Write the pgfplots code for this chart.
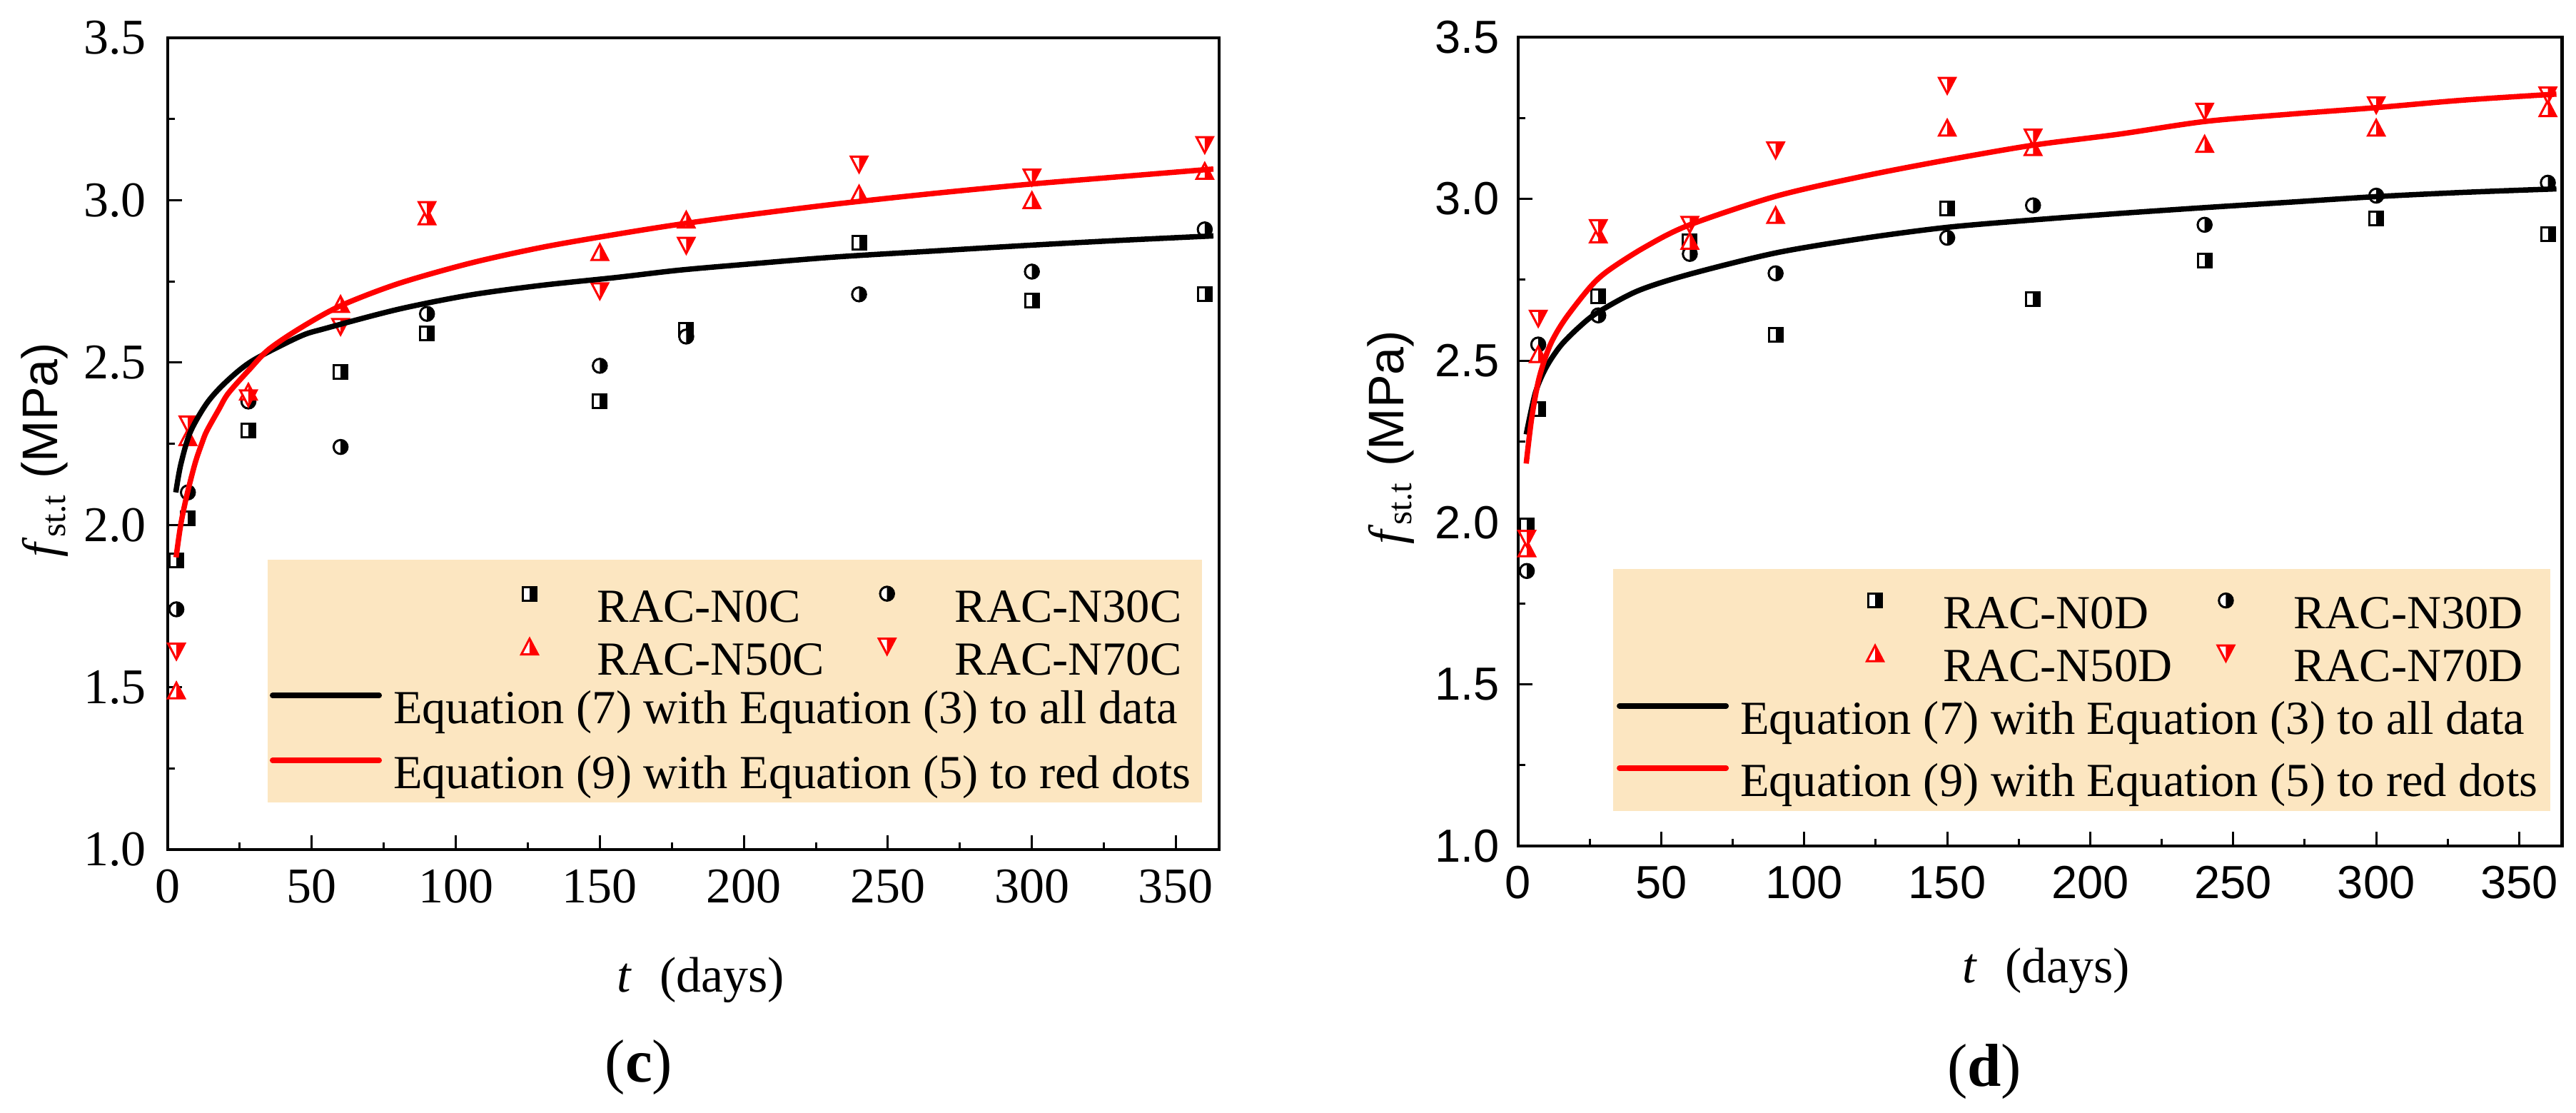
\documentclass[border=0pt]{standalone}
\usepackage{fontspec}
\setmainfont{Liberation Serif}
\newfontfamily\arial{Liberation Sans}
\newfontfamily\tnr{Liberation Serif}
\usepackage{pgfplots}
\usepackage{pgfplotstable}
\pgfplotsset{compat=1.18}
\definecolor{legbg}{RGB}{252,230,193}

\pgfdeclareplotmark{hsquare}{%
  \pgfscope\pgfsetfillcolor{white}%
  \pgfpathrectangle{\pgfpoint{-\pgfplotmarksize}{-\pgfplotmarksize}}{\pgfpoint{2\pgfplotmarksize}{2\pgfplotmarksize}}%
  \pgfusepathqfill\endpgfscope
  \pgfpathrectangle{\pgfpoint{0pt}{-\pgfplotmarksize}}{\pgfpoint{\pgfplotmarksize}{2\pgfplotmarksize}}%
  \pgfusepathqfill
  \pgfpathrectangle{\pgfpoint{-\pgfplotmarksize}{-\pgfplotmarksize}}{\pgfpoint{2\pgfplotmarksize}{2\pgfplotmarksize}}%
  \pgfusepathqstroke}
\pgfdeclareplotmark{hcircle}{%
  \pgfscope\pgfsetfillcolor{white}%
  \pgfpathcircle{\pgfpointorigin}{\pgfplotmarksize}\pgfusepathqfill\endpgfscope
  \pgfpathmoveto{\pgfpoint{0pt}{\pgfplotmarksize}}%
  \pgfpatharc{90}{-90}{\pgfplotmarksize}%
  \pgfpathclose\pgfusepathqfill
  \pgfpathcircle{\pgfpointorigin}{\pgfplotmarksize}\pgfusepathqstroke}
\pgfdeclareplotmark{htriup}{%
  \pgfscope\pgfsetfillcolor{white}%
  \pgfpathmoveto{\pgfpoint{0pt}{0.95\pgfplotmarksize}}%
  \pgfpathlineto{\pgfpoint{\pgfplotmarksize}{-0.95\pgfplotmarksize}}%
  \pgfpathlineto{\pgfpoint{-\pgfplotmarksize}{-0.95\pgfplotmarksize}}%
  \pgfpathclose\pgfusepathqfill\endpgfscope
  \pgfpathmoveto{\pgfpoint{0pt}{0.95\pgfplotmarksize}}%
  \pgfpathlineto{\pgfpoint{\pgfplotmarksize}{-0.95\pgfplotmarksize}}%
  \pgfpathlineto{\pgfpoint{0pt}{-0.95\pgfplotmarksize}}%
  \pgfpathclose\pgfusepathqfill
  \pgfpathmoveto{\pgfpoint{0pt}{0.95\pgfplotmarksize}}%
  \pgfpathlineto{\pgfpoint{\pgfplotmarksize}{-0.95\pgfplotmarksize}}%
  \pgfpathlineto{\pgfpoint{-\pgfplotmarksize}{-0.95\pgfplotmarksize}}%
  \pgfpathclose\pgfusepathqstroke}
\pgfdeclareplotmark{htridown}{%
  \pgfscope\pgfsetfillcolor{white}%
  \pgfpathmoveto{\pgfpoint{0pt}{-0.95\pgfplotmarksize}}%
  \pgfpathlineto{\pgfpoint{\pgfplotmarksize}{0.95\pgfplotmarksize}}%
  \pgfpathlineto{\pgfpoint{-\pgfplotmarksize}{0.95\pgfplotmarksize}}%
  \pgfpathclose\pgfusepathqfill\endpgfscope
  \pgfpathmoveto{\pgfpoint{0pt}{-0.95\pgfplotmarksize}}%
  \pgfpathlineto{\pgfpoint{\pgfplotmarksize}{0.95\pgfplotmarksize}}%
  \pgfpathlineto{\pgfpoint{0pt}{0.95\pgfplotmarksize}}%
  \pgfpathclose\pgfusepathqfill
  \pgfpathmoveto{\pgfpoint{0pt}{-0.95\pgfplotmarksize}}%
  \pgfpathlineto{\pgfpoint{\pgfplotmarksize}{0.95\pgfplotmarksize}}%
  \pgfpathlineto{\pgfpoint{-\pgfplotmarksize}{0.95\pgfplotmarksize}}%
  \pgfpathclose\pgfusepathqstroke}

% ---------------- data ----------------
\pgfplotstableread{
t    a     b     c     d
3    1.89  1.74  1.49  1.61
7    2.02  2.10  2.27  2.31
28   2.29  2.38  2.41  2.39
60   2.47  2.24  2.68  2.61
90   2.59  2.65  2.95  2.97
150  2.38  2.49  2.84  2.72
180  2.60  2.58  2.94  2.86
240  2.87  2.71  3.02  3.11
300  2.69  2.78  3.00  3.07
360  2.71  2.91  3.09  3.17
}\datac
\pgfplotstableread{
t    a     b     c     d
3    1.99  1.85  1.92  1.95
7    2.35  2.55  2.52  2.63
28   2.70  2.64  2.89  2.91
60   2.87  2.83  2.87  2.92
90   2.58  2.77  2.95  3.15
150  2.97  2.88  3.22  3.35
180  2.69  2.98  3.16  3.19
240  2.81  2.92  3.17  3.27
300  2.94  3.01  3.22  3.29
360  2.89  3.05  3.28  3.32
}\datad
\pgfplotstableread{
t     v
2.8   2.100
4.5   2.185
7.8   2.285
13.6  2.375
20.2  2.440
29.3  2.505
45.8  2.580
54.7  2.605
80    2.664
105   2.708
130   2.738
155.7 2.762
177   2.784
200   2.802
231.7 2.825
265   2.843
298.8 2.861
330   2.876
363   2.890
}\fitcblack
\pgfplotstableread{
t     v
2.9   1.900
4.5   2.000
6.6   2.090
9.5   2.190
12    2.255
13.6  2.290
17.7  2.355
21    2.405
28.5  2.480
35    2.540
45.8  2.605
59.8  2.674
80    2.743
105   2.806
130   2.855
155.7 2.895
177   2.925
200   2.953
231.7 2.988
265   3.020
298.8 3.049
330   3.072
363   3.096
}\fitcred
\pgfplotstableread{
t     v
2.8   2.272
6.0   2.401
9.8   2.480
14.9  2.547
21.2  2.603
27.6  2.648
41.6  2.715
59.4  2.766
90    2.833
120.5 2.878
149.8 2.912
180   2.935
210   2.955
239.8 2.973
270   2.990
299.8 3.007
330   3.020
363   3.031
}\fitdblack
\pgfplotstableread{
t     v
2.8   2.182
4.7   2.322
7.3   2.446
11.1  2.547
16.2  2.626
25.1  2.727
31.4  2.778
44.1  2.850
59.4  2.918
90    3.008
120.5 3.070
149.8 3.120
180   3.166
210   3.200
239.8 3.239
270   3.262
299.8 3.282
330   3.305
363   3.324
}\fitdred

\pgfplotsset{
  panel/.style={scale only axis, anchor=south west,
    xmin=0, xmax=365, ymin=1, ymax=3.5,
    xtick={0,50,100,150,200,250,300,350},
    ytick={1,1.5,2,2.5,3,3.5},
    minor x tick num=1, minor y tick num=1,
    tick align=inside, tick pos=left,
    major tick length=4pt, minor tick length=2pt,
    tick style={line width=0.6pt, black},
    axis line style={line width=0.9pt},
    clip=false,
    xlabel={\textit{t}\hspace{0.55em}(days)},
    ylabel={\textit{f}\textsubscript{st.t}\hspace{0.3em}{\arial (MPa)}},
    every axis x label/.style={anchor=center, font=\fontsize{14}{16}\selectfont},
    every axis y label/.style={anchor=center, rotate=90, font=\fontsize{14}{16}\selectfont},
    legend columns=2, legend cell align=left,
  },
  fitax/.style={scale only axis, anchor=south west, hide axis,
    xmin=0, xmax=365, ymin=1, ymax=3.5, legend cell align=left,
  },
  mleg/.style={legend image code/.code={%
    \path[draw=none, fill=none] (-4pt,1.3pt) rectangle (19pt,7.3pt);
    \draw[##1] plot coordinates {(0pt,4.4pt)};}},
  lleg/.style={legend image code/.code={%
    \path[draw=none, fill=none] (0pt,1.3pt) rectangle (34.6pt,7.3pt);
    \draw[##1, line cap=round] (0.75pt,4.4pt) -- (30.65pt,4.4pt);}},
  sq/.style={only marks, mark=hsquare, mark size=1.9pt, mark options={draw=black, fill=black, line width=0.6pt}, mleg},
  ci/.style={only marks, mark=hcircle, mark size=1.95pt, mark options={draw=black, fill=black, line width=0.6pt}, mleg},
  tu/.style={only marks, mark=htriup, mark size=2.3pt, mark options={draw=red, fill=red, line width=0.6pt}, mleg},
  td/.style={only marks, mark=htridown, mark size=2.3pt, mark options={draw=red, fill=red, line width=0.6pt}, mleg},
}

\begin{document}
\begin{tikzpicture}
\path[use as bounding box] (0,0) rectangle (721.8pt,311.6pt);

% ================= panel (c) =================
\begin{axis}[panel, at={(47pt,73.6pt)}, width=294.6pt, height=227.4pt,
  xticklabels={\mbox{\tnr 0},\mbox{\tnr 50},\mbox{\tnr 100},\mbox{\tnr 150},\mbox{\tnr 200},\mbox{\tnr 250},\mbox{\tnr 300},\mbox{\tnr 350}},
  yticklabels={\mbox{\tnr 1.0},\mbox{\tnr 1.5},\mbox{\tnr 2.0},\mbox{\tnr 2.5},\mbox{\tnr 3.0},\mbox{\tnr 3.5}},
  xticklabel style={font=\tnr\fontsize{14}{16}\selectfont, anchor=center, inner sep=0pt, yshift=-10.4pt},
  yticklabel style={font=\tnr\fontsize{14}{16}\selectfont, anchor=east, inner sep=0pt, xshift=-5.8pt},
  x label style={at={(rel axis cs:0.507,0)}, yshift=-36.6pt},
  y label style={at={(rel axis cs:-0.1168,0.4925)}},
  legend style={draw=none, fill=none, inner sep=0pt, outer sep=0pt,
    at={(rel axis cs:0.3306,0.3280)}, anchor=north west,
    column sep=0pt, row sep=1.0pt,
    nodes={inner sep=0pt, text height=10pt, text depth=3pt, font=\fontsize{13.3}{15}\selectfont},
    /tikz/every even column/.append style={column sep=13.6pt}},
]
\fill[legbg] (rel axis cs:0.0950,0.0580) rectangle (rel axis cs:0.9837,0.3571);
\addplot[sq] table[x=t, y=a] {\datac}; \addlegendentry{RAC-N0C}
\addplot[ci] table[x=t, y=b] {\datac}; \addlegendentry{RAC-N30C}
\addplot[tu] table[x=t, y=c] {\datac}; \addlegendentry{RAC-N50C}
\addplot[td] table[x=t, y=d] {\datac}; \addlegendentry{RAC-N70C}
\end{axis}
\begin{axis}[fitax, at={(47pt,73.6pt)}, width=294.6pt, height=227.4pt,
  legend style={draw=none, fill=none, inner sep=0pt, outer sep=0pt,
    at={(rel axis cs:0.0971,0.2026)}, anchor=north west,
    column sep=0pt, row sep=4.4pt,
    nodes={inner sep=0pt, text height=10pt, text depth=3pt, font=\fontsize{13.3}{15}\selectfont}},
]
\addplot[black, line width=1.5pt, smooth, lleg] table[x=t, y=v] {\fitcblack};
\addlegendentry{Equation (7) with Equation (3) to all data}
\addplot[red, line width=1.5pt, smooth, lleg] table[x=t, y=v] {\fitcred};
\addlegendentry{Equation (9) with Equation (5) to red dots}
\end{axis}

% ================= panel (d) =================
\begin{axis}[panel, at={(425.4pt,74.6pt)}, width=292.5pt, height=226.6pt,
  xticklabels={\mbox{\arial 0},\mbox{\arial 50},\mbox{\arial 100},\mbox{\arial 150},\mbox{\arial 200},\mbox{\arial 250},\mbox{\arial 300},\mbox{\arial 350}},
  yticklabels={\mbox{\arial 1.0},\mbox{\arial 1.5},\mbox{\arial 2.0},\mbox{\arial 2.5},\mbox{\arial 3.0},\mbox{\arial 3.5}},
  xticklabel style={font=\arial\fontsize{13}{15}\selectfont, anchor=center, inner sep=0pt, yshift=-10.2pt},
  yticklabel style={font=\arial\fontsize{13}{15}\selectfont, anchor=east, inner sep=0pt, xshift=-5pt},
  x label style={at={(rel axis cs:0.506,0)}, yshift=-35pt},
  y label style={at={(rel axis cs:-0.1217,0.505)}},
  legend style={draw=none, fill=none, inner sep=0pt, outer sep=0pt,
    at={(rel axis cs:0.3282,0.3163)}, anchor=north west,
    column sep=0pt, row sep=1.0pt,
    nodes={inner sep=0pt, text height=10pt, text depth=3pt, font=\fontsize{13.3}{15}\selectfont},
    /tikz/every even column/.append style={column sep=11pt}},
]
\fill[legbg] (rel axis cs:0.0909,0.0435) rectangle (rel axis cs:0.9887,0.3427);
\addplot[sq] table[x=t, y=a] {\datad}; \addlegendentry{RAC-N0D}
\addplot[ci] table[x=t, y=b] {\datad}; \addlegendentry{RAC-N30D}
\addplot[tu] table[x=t, y=c] {\datad}; \addlegendentry{RAC-N50D}
\addplot[td] table[x=t, y=d] {\datad}; \addlegendentry{RAC-N70D}
\end{axis}
\begin{axis}[fitax, at={(425.4pt,74.6pt)}, width=292.5pt, height=226.6pt,
  legend style={draw=none, fill=none, inner sep=0pt, outer sep=0pt,
    at={(rel axis cs:0.0944,0.1860)}, anchor=north west,
    column sep=0pt, row sep=3.6pt,
    nodes={inner sep=0pt, text height=10pt, text depth=3pt, font=\fontsize{13.3}{15}\selectfont}},
]
\addplot[black, line width=1.5pt, smooth, lleg] table[x=t, y=v] {\fitdblack};
\addlegendentry{Equation (7) with Equation (3) to all data}
\addplot[red, line width=1.5pt, smooth, lleg] table[x=t, y=v] {\fitdred};
\addlegendentry{Equation (9) with Equation (5) to red dots}
\end{axis}

\node[font=\fontsize{17}{19}\selectfont] at (179pt,12.6pt) {(\textbf{c})};
\node[font=\fontsize{17}{19}\selectfont] at (556pt,11.4pt) {(\textbf{d})};
\end{tikzpicture}
\end{document}
